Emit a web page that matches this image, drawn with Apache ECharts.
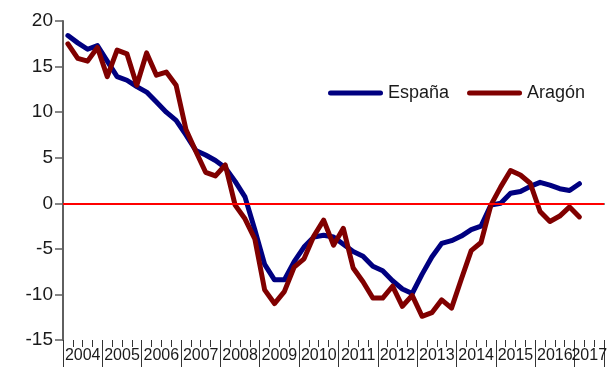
<!DOCTYPE html>
<html>
<head>
<meta charset="utf-8">
<script src="https://cdn.jsdelivr.net/npm/echarts@6/dist/echarts.min.js"></script>
<style>
  html, body { margin: 0; padding: 0; background: #ffffff; }
  #chart { width: 612px; height: 367px; }
</style>
</head>
<body>
<div id="chart"></div>
<script>
// Year-on-year change, quarterly series (2004 T1 .. 2017 T1)
const years = ['2004', '2005', '2006', '2007', '2008', '2009', '2010',
               '2011', '2012', '2013', '2014', '2015', '2016', '2017'];
const quarterNames = ['T1', 'T2', 'T3', 'T4'];
const quartersInAxis = 55; // the axis runs through 2017 T3

const espana = [18.4, 17.6, 16.9, 17.3, 15.6, 13.9, 13.5, 12.8, 12.2, 11.1,
                10.0, 9.1, 7.5, 5.8, 5.3, 4.7, 3.9, 2.4, 0.7, -2.9,
                -6.7, -8.4, -8.4, -6.4, -4.8, -3.7, -3.5, -3.7, -4.5, -5.3,
                -5.8, -6.9, -7.4, -8.5, -9.4, -9.9, -7.8, -5.9, -4.4, -4.1,
                -3.6, -2.9, -2.5, -0.2, 0.0, 1.1, 1.3, 1.85, 2.3, 2.0,
                1.6, 1.4, 2.15];

const aragon = [17.5, 15.9, 15.6, 17.1, 13.9, 16.8, 16.4, 12.95, 16.5, 14.05,
                14.4, 12.95, 8.1, 5.7, 3.4, 3.0, 4.2, -0.2, -1.7, -3.9,
                -9.5, -11.0, -9.7, -7.0, -6.1, -3.6, -1.85, -4.6, -2.75, -7.1,
                -8.6, -10.4, -10.4, -9.1, -11.3, -10.1, -12.4, -12.0, -10.6, -11.5,
                -8.3, -5.2, -4.3, -0.2, 1.8, 3.6, 3.1, 2.2, -0.9, -2.0,
                -1.4, -0.4, -1.5];

const yTicks = { min: -15, max: 20, step: 5 };

// quarter categories for the data axis
const quarters = [];
years.forEach(function (y) {
  quarterNames.forEach(function (q) {
    if (quarters.length < quartersInAxis) quarters.push(y + ' ' + q);
  });
});

// centre of each year's span on the quarter scale, for the year labels
const yearCentre = {};
years.forEach(function (y, k) {
  const start = 4 * k;
  const end = Math.min(start + 4, quartersInAxis);
  yearCentre[(start + end) / 2] = y;
});

const axisGrey = '#5f5f5f';
const textColor = '#1a1a1a';
const fontFamily = '"Liberation Sans", Arial, sans-serif';
// legend key: a thick stroke with rounded ends
const legendKey = 'path://M2.5,0 L52.5,0 A2.5,2.5 0 0 1 52.5,5 L2.5,5 A2.5,2.5 0 0 1 2.5,0 Z';

const chart = echarts.init(document.getElementById('chart'));
chart.setOption({
  animation: false,
  backgroundColor: '#ffffff',
  grid: { left: 63, right: 8, top: 21, bottom: 27, containLabel: false },
  legend: {
    left: 328,
    top: 84,
    padding: 0,
    icon: legendKey,
    itemWidth: 55,
    itemHeight: 5,
    itemGap: 18,
    textStyle: { fontSize: 18, color: textColor, fontFamily: fontFamily },
    data: ['España', 'Aragón']
  },
  xAxis: [
    {
      // data axis: one slot per quarter
      type: 'category',
      data: quarters,
      boundaryGap: true,
      axisLine: { show: true, lineStyle: { color: axisGrey, width: 2 } },
      axisTick: { show: false },
      axisLabel: { show: false },
      splitLine: { show: false }
    },
    {
      // year labels, centred on each year's quarters
      type: 'value',
      min: 0,
      max: quartersInAxis,
      interval: 0.5,
      position: 'bottom',
      axisLine: { show: false },
      axisTick: { show: false },
      splitLine: { show: false },
      axisLabel: {
        show: true,
        margin: 8,
        fontSize: 16,
        color: textColor,
        fontFamily: fontFamily,
        showMinLabel: true,
        showMaxLabel: true,
        formatter: function (v) {
          return yearCentre[v] !== undefined ? yearCentre[v] : '';
        }
      }
    },
    {
      // short quarter ticks
      type: 'value',
      min: 0,
      max: quartersInAxis,
      interval: 1,
      position: 'bottom',
      axisLine: { show: false },
      axisLabel: { show: false },
      splitLine: { show: false },
      axisTick: { show: true, length: 7, lineStyle: { color: '#333333', width: 1 } }
    },
    {
      // long year-boundary ticks
      type: 'value',
      min: 0,
      max: quartersInAxis,
      interval: 4,
      position: 'bottom',
      axisLine: { show: false },
      axisLabel: { show: false },
      splitLine: { show: false },
      axisTick: { show: true, length: 30, lineStyle: { color: '#333333', width: 1 } }
    }
  ],
  yAxis: {
    type: 'value',
    min: yTicks.min,
    max: yTicks.max,
    interval: yTicks.step,
    axisLine: { show: true, lineStyle: { color: axisGrey, width: 2 } },
    axisTick: { show: true, length: 8, lineStyle: { color: axisGrey, width: 1.5 } },
    splitLine: { show: false },
    axisLabel: {
      margin: 10,
      fontSize: 19,
      color: textColor,
      fontFamily: fontFamily
    }
  },
  series: [
    {
      name: 'España',
      type: 'line',
      xAxisIndex: 0,
      data: espana,
      symbol: 'none',
      lineStyle: { color: '#000080', width: 5, cap: 'round', join: 'round' },
      itemStyle: { color: '#000080' },
      z: 3
    },
    {
      name: 'Aragón',
      type: 'line',
      xAxisIndex: 0,
      data: aragon,
      symbol: 'none',
      lineStyle: { color: '#800000', width: 5, cap: 'round', join: 'round' },
      itemStyle: { color: '#800000' },
      z: 4,
      markLine: {
        silent: true,
        symbol: ['none', 'none'],
        label: { show: false },
        lineStyle: { color: '#ff0000', width: 2, type: 'solid' },
        data: [{ yAxis: 0 }],
        z: 10
      }
    }
  ]
});
</script>
</body>
</html>
